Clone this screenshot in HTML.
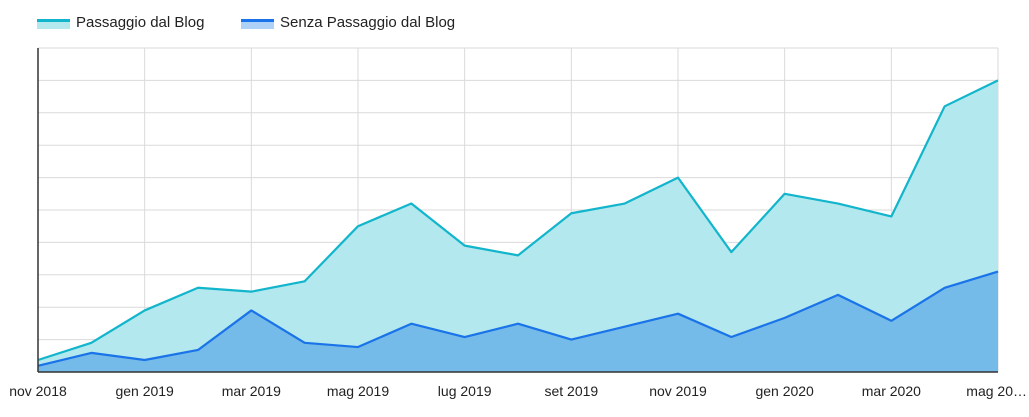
<!DOCTYPE html>
<html><head><meta charset="utf-8"><style>
body{margin:0;background:#fff;font-family:"Liberation Sans",sans-serif;}
svg text{font-family:"Liberation Sans",sans-serif;}
</style></head><body>
<svg id="c" width="1029" height="412" xmlns="http://www.w3.org/2000/svg">
<g>
 <g>
  <rect x="37" y="19" width="33" height="10" fill="#b2e8ee"/>
  <rect x="37" y="19" width="33" height="3" fill="#12b5cb"/>
  <text x="76" y="27" font-size="15" fill="#222">Passaggio dal Blog</text>
 </g>
 <g>
  <rect x="241" y="19" width="33" height="10" fill="#aed2f7"/>
  <rect x="241" y="19" width="33" height="3" fill="#1a73e8"/>
  <text x="280" y="27" font-size="15" fill="#222">Senza Passaggio dal Blog</text>
 </g>
</g>
<g id="grid"></g><g id="areas"></g><g id="xlabels"></g>
<line x1="38" y1="48" x2="38" y2="372" stroke="#333" stroke-width="1.5"/>
<line x1="38" y1="372" x2="998" y2="372" stroke="#333" stroke-width="1.5"/>
</svg>
<script>
const months=["nov 2018","dic 2018","gen 2019","feb 2019","mar 2019","apr 2019","mag 2019","giu 2019","lug 2019","ago 2019","set 2019","ott 2019","nov 2019","dic 2019","gen 2020","feb 2020","mar 2020","apr 2020","mag 2020"];
const passaggio=[0.37,0.9,1.9,2.6,2.48,2.8,4.5,5.2,3.9,3.6,4.9,5.2,6.0,3.7,5.5,5.2,4.8,8.2,9.0];
const senza=[0.19,0.59,0.37,0.68,1.9,0.9,0.77,1.49,1.08,1.49,1.0,1.4,1.8,1.08,1.67,2.38,1.58,2.6,3.1];
const tickLabels=["nov 2018","gen 2019","mar 2019","mag 2019","lug 2019","set 2019","nov 2019","gen 2020","mar 2020","mag 20…"];
const yMax=10;
const L=38,R=998,T=48,B=372,NS="http://www.w3.org/2000/svg";
const x=i=>L+(R-L)*i/(months.length-1);
const y=v=>B-(B-T)*v/yMax;
function mk(t,a,p){const e=document.createElementNS(NS,t);for(const k in a)e.setAttribute(k,a[k]);p.appendChild(e);return e;}
const grid=document.getElementById('grid');
for(let k=0;k<=yMax;k++){
 const g=mk('line',{x1:L,x2:R,y1:y(k),y2:y(k),stroke:'#dadada','stroke-width':1},grid);
 
 
}
for(let i=0;i<months.length;i+=2){
 const g=mk('line',{x1:x(i),x2:x(i),y1:T,y2:B,stroke:'#dadada','stroke-width':1},grid);
 
 
}
const areas=document.getElementById('areas');
function series(vals,fill,stroke,name){
 let pts=vals.map((v,i)=>x(i)+','+y(v)).join(' ');
 const a=mk('polygon',{points:L+','+B+' '+pts+' '+R+','+B,fill:fill},areas);
 
 
 const l=mk('polyline',{points:pts,fill:'none',stroke:stroke,'stroke-width':2.2,'stroke-linejoin':'round'},areas);
 
 
}
series(passaggio,'#b2e8ee','#12b5cb','passaggio');
// redraw grid faintly over the cyan area
series(senza,'rgba(66,150,230,0.55)','#1a73e8','senza-passaggio');
const xl=document.getElementById('xlabels');
tickLabels.forEach((t,j)=>{
 const i=j*2;
 const last=j===tickLabels.length-1;
 const e=mk('text',{x:last?1027:x(i),y:396,'font-size':14,fill:'#222','text-anchor':last?'end':'middle'},xl);
 e.textContent=t;
 
 
});
</script>
</body></html>
